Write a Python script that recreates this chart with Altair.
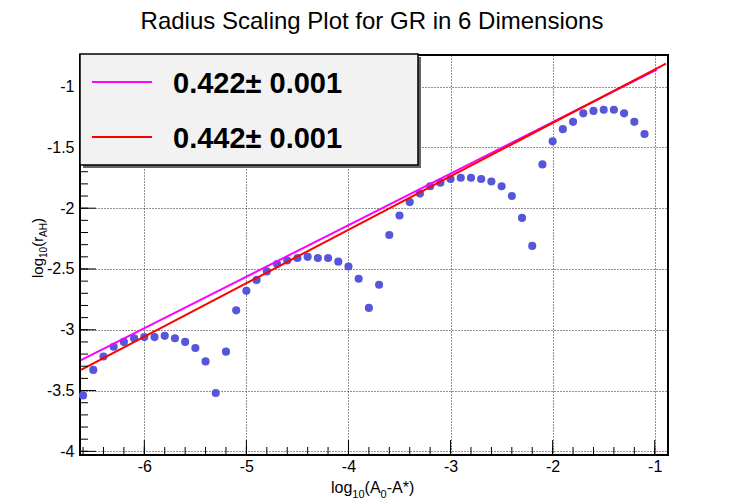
import altair as alt
import pandas as pd

FONT = "Liberation Sans"

title_text = "Radius Scaling Plot for GR in 6 Dimensions"

# data points: log10(A0 - A*) vs log10(r_AH)
log_da = [-6.6, -6.5, -6.4, -6.3, -6.2, -6.1, -6.0, -5.9, -5.8, -5.7, -5.6, -5.5, -5.4, -5.3,
          -5.2, -5.1, -5.0, -4.9, -4.8, -4.7, -4.6, -4.5, -4.4, -4.3, -4.2, -4.1, -4.0, -3.9,
          -3.8, -3.7, -3.6, -3.5, -3.4, -3.3, -3.2, -3.1, -3.0, -2.9, -2.8, -2.7, -2.6, -2.5,
          -2.4, -2.3, -2.2, -2.1, -2.0, -1.9, -1.8, -1.7, -1.6, -1.5, -1.4, -1.3, -1.2, -1.1]
log_r = [-3.54, -3.33, -3.22, -3.14, -3.10, -3.07, -3.06, -3.06, -3.05, -3.07, -3.10, -3.15, -3.26, -3.52,
         -3.18, -2.84, -2.68, -2.59, -2.52, -2.46, -2.43, -2.41, -2.40, -2.41, -2.41, -2.44, -2.48, -2.58,
         -2.82, -2.63, -2.22, -2.06, -1.95, -1.88, -1.82, -1.79, -1.76, -1.75, -1.75, -1.76, -1.78, -1.82,
         -1.90, -2.08, -2.31, -1.64, -1.45, -1.35, -1.29, -1.22, -1.20, -1.19, -1.19, -1.22, -1.29, -1.39]

# fit lines
fit_labels = ["0.422\u00b1 0.001", "0.442\u00b1 0.001"]
fit_colors = ["#ff00ff", "#ff0000"]
fit_x_start = [-6.62, -6.62]
fit_x_end = [-0.98, -0.89]
fit_y_start = [-3.25, -3.33]
fit_y_end = [-0.86, -0.81]

# axes
x_major = [-6, -5, -4, -3, -2, -1]
x_minor = [round(-6.6 + 0.2 * k, 2) for k in range(29)]
y_major = [-4, -3.5, -3, -2.5, -2, -1.5, -1]
y_minor = [round(-4.0 + 0.1 * k, 2) for k in range(33)]
x_domain = [-6.63, -0.87]
y_domain = [-4.03, -0.74]

W, H = 588, 400

xs = alt.Scale(domain=x_domain, nice=False, zero=False)
ys = alt.Scale(domain=y_domain, nice=False, zero=False)

label_expr = "datum.value < 0 ? '-' + format(-datum.value, '~g') : format(datum.value, '~g')"
x_axis = alt.Axis(values=x_major, labelExpr=label_expr, title=None, ticks=False, tickSize=0, domain=False,
                  grid=True, gridDash=[1, 2], gridColor="#222", gridWidth=1, labelFont=FONT,
                  labelFontSize=16, labelColor="black", labelPadding=3)
y_axis = alt.Axis(values=y_major, labelExpr=label_expr, title=None, ticks=False, tickSize=0, domain=False,
                  grid=True, gridDash=[1, 2], gridColor="#222", gridWidth=1, labelFont=FONT,
                  labelFontSize=16, labelColor="black", labelPadding=6)

pts = pd.DataFrame({"x": log_da, "y": log_r})
points = alt.Chart(pts).mark_circle(size=66, color="#5656da", opacity=1).encode(
    x=alt.X("x:Q", scale=xs, axis=x_axis, title=None),
    y=alt.Y("y:Q", scale=ys, axis=y_axis, title=None),
)

rows = []
for lab, x0, x1, y0, y1 in zip(fit_labels, fit_x_start, fit_x_end, fit_y_start, fit_y_end):
    rows.append({"series": lab, "x": x0, "y": y0})
    rows.append({"series": lab, "x": x1, "y": y1})
lines = alt.Chart(pd.DataFrame(rows)).mark_line(strokeWidth=2).encode(
    x=alt.X("x:Q", scale=xs, axis=x_axis, title=None),
    y=alt.Y("y:Q", scale=ys, axis=y_axis, title=None),
    color=alt.Color("series:N", scale=alt.Scale(domain=fit_labels, range=fit_colors), legend=None),
)

# inward ticks
def yticks(vals, length):
    return alt.Chart(pd.DataFrame({"y": vals})).mark_rule(color="black", strokeWidth=1).encode(
        y=alt.Y("y:Q", scale=ys, axis=y_axis, title=None), x=alt.value(0), x2=alt.value(length))

def xticks(vals, length):
    return alt.Chart(pd.DataFrame({"x": vals})).mark_rule(color="black", strokeWidth=1).encode(
        x=alt.X("x:Q", scale=xs, axis=x_axis, title=None), y=alt.value(H), y2=alt.value(H - length))

ticks = [yticks(y_minor, 8), yticks(y_major, 16), xticks(x_minor, 8), xticks(x_major, 15)]

# legend box
one = pd.DataFrame({"a": [0]})
shadow = alt.Chart(one).mark_rect(color="#666666").encode(
    x=alt.value(3), x2=alt.value(341), y=alt.value(2), y2=alt.value(113))
box = alt.Chart(one).mark_rect(fill="#f2f2f2", stroke="black", strokeWidth=1.5).encode(
    x=alt.value(0), x2=alt.value(338), y=alt.value(-1), y2=alt.value(110))
legend_layers = [shadow, box]
row_y = [27, 82]
for lab, col, ry in zip(fit_labels, fit_colors, row_y):
    d = pd.DataFrame({"label": [lab]})
    legend_layers.append(alt.Chart(d).mark_rule(color=col, strokeWidth=2).encode(
        x=alt.value(12), x2=alt.value(72), y=alt.value(ry)))
    legend_layers.append(alt.Chart(d).mark_text(align="left", baseline="middle", font=FONT,
                                                fontSize=29, fontWeight="bold", color="black").encode(
        x=alt.value(93), y=alt.value(ry + 2), text="label:N"))

# chart title and axis titles with subscripts
CW = {"l": 0.222, "o": 0.556, "g": 0.556, "1": 0.556, "0": 0.556, "(": 0.333, ")": 0.333,
      "A": 0.667, "-": 0.333, "*": 0.389, "r": 0.333, "H": 0.722}

def tw(s, size):
    return sum(CW.get(c, 0.556) for c in s) * size

title_layers = [alt.Chart(pd.DataFrame({"t": [title_text]})).mark_text(
    align="center", baseline="alphabetic", font=FONT, fontSize=24, color="black").encode(
    x=alt.value(292), y=alt.value(-26), text="t:N")]

x_title_parts = ["log", "10", "(A", "0", "-A*)"]
x_title_sub = [False, True, False, True, False]
y_title_parts = ["log", "10", "(r", "AH", ")"]
y_title_sub = [False, True, False, True, False]

cx = 251
for part, sub in zip(x_title_parts, x_title_sub):
    fs = 11 if sub else 16
    title_layers.append(alt.Chart(pd.DataFrame({"t": [part]})).mark_text(
        align="left", baseline="alphabetic", font=FONT, fontSize=fs, color="black").encode(
        x=alt.value(cx), y=alt.value(443 if sub else 438), text="t:N"))
    cx += tw(part, fs)

cy = 223
for part, sub in zip(y_title_parts, y_title_sub):
    fs = 10 if sub else 15
    title_layers.append(alt.Chart(pd.DataFrame({"t": [part]})).mark_text(
        align="left", baseline="alphabetic", angle=270, font=FONT, fontSize=fs, color="black").encode(
        x=alt.value(-33 if sub else -37), y=alt.value(cy), text="t:N"))
    cy -= tw(part, fs)

chart = alt.layer(points, lines, *ticks, *legend_layers, *title_layers).properties(
    width=W, height=H,
    autosize=alt.AutoSizeParams(type="none"),
    padding={"left": 72, "top": 47, "right": 61, "bottom": 48},
    background="white",
).configure_view(stroke="black", strokeWidth=2)

chart.save("out.html", embed_options={"renderer": "svg", "actions": False})
